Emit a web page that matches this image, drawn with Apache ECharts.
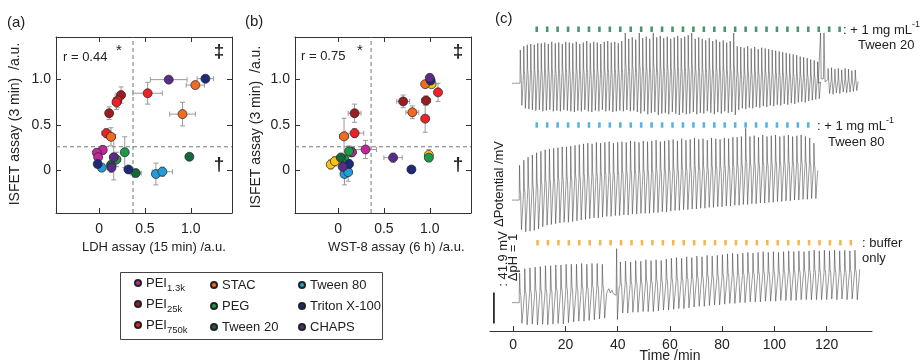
<!DOCTYPE html>
<html><head><meta charset="utf-8">
<script src="https://cdn.jsdelivr.net/npm/echarts@6/dist/echarts.min.js"></script>
<style>html,body{margin:0;padding:0;background:#fff}#c{width:923px;height:362px}</style>
</head><body><div id="c"></div>
<script>
const FONT = '"Liberation Sans", Arial, Helvetica, sans-serif';

// ---------- Panel (a): LDH assay vs ISFET assay  [x, y, xErr, yErr]
const a_PEI13k  = [[0.04,0.225,0.04,0.05],[-0.025,0.195,0.03,0.04],[-0.01,0.145,0.03,0.04]];
const a_PEI25k  = [[0.24,0.83,0.03,0.09],[0.11,0.63,0.03,0.07]];
const a_PEI750k = [[0.53,0.85,0.16,0.12],[0.20,0.77,0.04,0.08],[0.19,0.75,0.04,0.08],[0.08,0.41,0.05,0.05]];
const a_STAC    = [[1.05,0.94,0.10,0.03],[0.91,0.62,0.14,0.13],[0.13,0.37,0.05,0.10]];
const a_PEG     = [[0.28,0.20,0.03,0.17],[0.19,0.12,0.04,0.08]];
const a_Tw20    = [[0.985,0.15,0,0],[0.40,-0.03,0.06,0.02],[0.13,0.06,0.03,0.04]];
const a_Tw80    = [[0.62,-0.04,0.03,0.12],[0.69,-0.015,0.11,0.05],[0.03,0.03,0.02,0.03]];
const a_Triton  = [[1.16,1.01,0.09,0.02],[0.32,0.01,0.03,0.02],[-0.015,0.07,0.02,0.03]];
const a_CHAPS   = [[0.76,1.00,0.20,0.02],[0.16,0.145,0.04,0.25],[0.135,0.03,0.03,0.05]];

// ---------- Panel (b): WST-8 assay vs ISFET assay
const b_PEI13k  = [[0.30,0.23,0.12,0.10],[0.15,0.20,0.03,0.05]];
const b_PEI25k  = [[0.18,0.63,0.07,0.10],[0.71,0.76,0.07,0.07],[0.96,0.77,0.05,0.05]];
const b_PEI750k = [[0.18,0.41,0.10,0.05],[1.09,0.86,0.04,0.10],[0.95,0.57,0.04,0.15]];
const b_STAC    = [[0.065,0.375,0.05,0.20],[0.81,0.64,0.07,0.07],[0.95,0.95,0.03,0.03]];
const b_PEG     = [[0.12,0.21,0.04,0.06],[0.07,0.12,0.03,0.05],[0.99,0.14,0.03,0.04]];
const b_Tw20    = [[0.03,0.14,0.05,0.05]];
const b_Tw80    = [[0.07,-0.04,0.03,0.12],[0.11,-0.02,0.04,0.10]];
const b_Triton  = [[0.12,0.07,0.03,0.05],[0.80,0.01,0.04,0.03],[1.01,0.99,0.03,0.03]];
const b_CHAPS   = [[0.05,0.04,0.03,0.06],[0.60,0.14,0.10,0.05],[1.00,1.02,0.03,0.03]];
const b_Other   = [[-0.08,0.065,0.04,0.05],[-0.035,0.10,0.04,0.05],[1.02,0.95,0.03,0.03],[0.99,0.17,0.03,0.06],[0.15,0.20,0.03,0.04]];

const corrA = 'r = 0.44', corrB = 'r = 0.75';
const ldhThreshold = 0.37, wstThreshold = 0.36, isfetThreshold = 0.26;
const scatterTicks = [0, 0.5, 1.0];

// ---------- Panel (c): potential traces (mV relative to each trace's resting level)
const t1Start = 2.6, t1Period = 1.34;
const t1Tops = [45,50,52,53,52,54, 54,55,53,56,54,55,53,56,55,54,56,53,55,57,54,56,55,53,56,57,55,56,54,57,
  68,60,62,59,68,61,63,60,68,62,64,61,63,60,62,64,61,63,65,68,60,62,
  60,58,61,57,59,56,58,55,57,68, 50,49,48,50,47,49,46,48,47,
  46,45,44,43,42,41,40,39,38,36,35,34,32,31,29];
const t1Bottoms = [-30,
  -34,-35,-36,-37,-36,-38,-37,-36,-38,-37,-38,-36,-37,-38,-39,-37,-38,-36,-38,-39,-37,-38,-36,-38,-37,-39,-38,-37,-38,-36,-38,-37,
  -39,-41,-38,-42,-40,-39,-43,-41,-40,-42,-39,-41,-43,-40,-42,-41,-39,-42,-40,-41,-38,-40,-42,-39,-41,-38,-40,-39,-43,
  -36,-34,-35,-33,-34,-32,-33,-31,-32,-30,-31,-29,-30,-28,-29,-27,-28,-26,-25,-26,-24,-23,-22,-21];
const t1DoubleSpike = [[116.8,0],[117.7,68],[117.95,6],[118.8,6],[119.0,68],[119.4,2]];
const t1TailStart = 120.5, t1TailPeriod = 1.3;
const t1TailTops = [20,21,19,20,18,20,19,17,18];
const t1TailBottoms = [-14,-15,-13,-14,-12,-13,-12,-11,-10];

const t2Start = 2.3, t2Period = 1.634;
const t2Tops = [47,54,58,61,64, 66,68,69,70,71,72,72,73,74,75,
  76,77,76,78,77,78,79,77,78,79,78,80,79,78,80,79,80,81,79,80,
  81,82,80,83,81,82,84,82,83,81,84,83,82,84,83,85,
  85,86,97,86,87,85,88,86,87,88,86,87,88,86,87,88,86,84,77];
const t2Bottoms = [-40,-43,-42,-41,-39, -36,-34,-33,-32,-31,-30,-30,-29,-28,-27,
  -26,-25,-24,-24,-23,-22,-22,-21,-21,-20,-20,-19,-19,-18,-18,-18,-17,-17,-16,-16,
  -15,-14,-14,-13,-13,-12,-12,-11,-11,-10,-10,-9,-9,-8,-8,-7,
  -7,-6,-6,-5,-5,-4,-4,-3,-3,-2,-2,-1,-1,0,0,1,1,2,2];

const t3aStart = 2.3, t3aPeriod = 1.98;
const t3aTops = [40,46,47,48,49,50,50,51,51,52,52,52,53,52,53,53,52];
const t3aBottoms = [-28,-30,-29,-30,-29,-30,-29,-28,-29,-27,-26,-25,-25,-24,-23,-22,-21];
const t3Disturb = [[36.0,15],[36.6,19],[37.2,13],[37.8,17],[38.4,12],[39.0,14],[39.4,10],[39.6,73],[39.9,-23],[40.5,20]];
const t3bStart = 40.9, t3bPeriod = 1.953;
const t3bTops = [55,56,55,57,56,58,57,58,57,59, 60,61,60,62,61,63,62,64,63,64, 65,66,67,66,67,68,67,68,69,68,
  69,68,69,70,69,70,69,70,71,70, 71,70,71,70,71,70,71];
const t3bBottoms = [-14,-14,-13,-13,-12,-12,-12,-11,-10,-10, -9,-8,-8,-7,-6,-5,-5,-4,-3,-3, -2,-1,-1,0,0,1,1,1,2,2,
  2,3,3,3,3,4,4,4,4,4, 4,5,4,5,4,5,4];

const tw20Marks = [9,13,17,21,25,29,33,37,41,45,49,53,57,61,65,69,73,77,81,85,89,93,97,101,105,109,113,117,121,125];
const tw80Marks = [9,13,17,21,25,29,33,37,41,45,49,53,57,61,65,69,73,77,81,85,89,93,97,101,105,109,113];
const bufMarks  = [9.3,13.3,17.3,21.3,25.3,29.3,33.3,37.3,41.3,45.3,49.3,53.3,57.3,61.3,65.3,69.3,73.3,77.3,81.3,85.3,89.3,93.3,97.3,101.3,105.3,109.3,113.3,117.3,121.3,125.3,129.3];
const timeTicks = [0,20,40,60,80,100,120];
const scaleBarMV = 41.9;

// ---------- layout constants (mV on the shared vertical axis of panel c)
const MVPX = 1.352;
const off1 = 335, off2 = 177, off3 = 38.3;
const mark1 = 408, mark2 = 278.5, mark3 = 119.4;

const COLORS = {
  'PEI1.3k':'#c1279a','PEI25k':'#9c1c22','PEI750k':'#ec2227','STAC':'#f26b21','PEG':'#1c9a48',
  'Tween 20':'#13693a','Tween 80':'#239cd8','Triton X-100':'#1d2a78','CHAPS':'#5a2b88','other':'#f7c318'
};

function cycles(start, period, tops, bottoms, base, pts){
  const n = Math.min(tops.length, bottoms.length);
  for(let i=0;i<n;i++){
    const t = start + i*period, T = base + tops[i], B = base + bottoms[i], M = B + 0.55*(T-B);
    pts.push([t, M],[t+0.07*period, T],[t+0.2*period, M+0.06*(T-B)],[t+0.32*period, M],
             [t+0.52*period, B],[t+0.9*period, M-0.1*(T-B)]);
  }
}
function rel(list, base){ return list.map(p => [p[0], base + p[1]]); }

const tr1 = [[-0.5,off1],[t1Start,off1]];
cycles(t1Start, t1Period, t1Tops, t1Bottoms, off1, tr1);
tr1.push(...rel(t1DoubleSpike, off1));
cycles(t1TailStart, t1TailPeriod, t1TailTops, t1TailBottoms, off1, tr1);
tr1.push([t1TailStart + t1TailTops.length*t1TailPeriod, off1+2]);

const tr2 = [[-0.5,off2],[t2Start,off2]];
cycles(t2Start, t2Period, t2Tops, t2Bottoms, off2, tr2);
tr2.push([t2Start + t2Tops.length*t2Period, off2+40]);

const tr3 = [[-0.5,off3],[t3aStart,off3]];
cycles(t3aStart, t3aPeriod, t3aTops, t3aBottoms, off3, tr3);
tr3.push(...rel(t3Disturb, off3));
cycles(t3bStart, t3bPeriod, t3bTops, t3bBottoms, off3, tr3);
tr3.push([t3bStart + t3bTops.length*t3bPeriod, off3+45]);

// ---------- helpers
function errRender(params, api){
  const x = api.value(0), y = api.value(1), ex = api.value(2), ey = api.value(3);
  const st = {stroke:'#9a9a9a', lineWidth:1, fill:null};
  const ch = [], cap = 2.5;
  if (ex > 0){
    const l = api.coord([x-ex,y]), r = api.coord([x+ex,y]);
    ch.push({type:'line',shape:{x1:l[0],y1:l[1],x2:r[0],y2:r[1]},style:st});
    ch.push({type:'line',shape:{x1:l[0],y1:l[1]-cap,x2:l[0],y2:l[1]+cap},style:st});
    ch.push({type:'line',shape:{x1:r[0],y1:r[1]-cap,x2:r[0],y2:r[1]+cap},style:st});
  }
  if (ey > 0){
    const t = api.coord([x,y+ey]), b = api.coord([x,y-ey]);
    ch.push({type:'line',shape:{x1:t[0],y1:t[1],x2:b[0],y2:b[1]},style:st});
    ch.push({type:'line',shape:{x1:t[0]-cap,y1:t[1],x2:t[0]+cap,y2:t[1]},style:st});
    ch.push({type:'line',shape:{x1:b[0]-cap,y1:b[1],x2:b[0]+cap,y2:b[1]},style:st});
  }
  return {type:'group', children:ch};
}
const fmtTick = v => v === 0 ? '0' : v.toFixed(1);
const frameLine = {show:true, onZero:false, lineStyle:{color:'#333', width:1}};
function sAxisX(grid, pos, label){
  return {type:'value', gridIndex:grid, position:pos, min:-0.47, max:1.45,
    axisLine:frameLine, splitLine:{show:false},
    axisTick:{show:true, inside:true, length:5, customValues:scatterTicks, lineStyle:{color:'#333'}},
    axisLabel:{show:label, customValues:scatterTicks, formatter:fmtTick, margin:9, fontSize:14, color:'#222', fontFamily:FONT}};
}
function sAxisY(grid, pos, label){
  return {type:'value', gridIndex:grid, position:pos, min:-0.47, max:1.47,
    axisLine:frameLine, splitLine:{show:false},
    axisTick:{show:true, inside:true, length:5, customValues:scatterTicks, lineStyle:{color:'#333'}},
    axisLabel:{show:label, customValues:scatterTicks, formatter:fmtTick, margin:5, fontSize:14, color:'#222', fontFamily:FONT}};
}
function scat(name, data, xi, color){
  return {type:'scatter', name:name, xAxisIndex:xi, yAxisIndex:xi, data:data, symbolSize:9, z:5,
    itemStyle:{color:color, borderColor:'#222', borderWidth:0.7, opacity:1}};
}
function dashed(xi, pts){
  return {type:'line', xAxisIndex:xi, yAxisIndex:xi, data:pts, symbol:'none', silent:true, z:1,
    lineStyle:{color:'#777', width:1, type:[4,3]}};
}
const setsA = [['PEI1.3k',a_PEI13k],['PEI25k',a_PEI25k],['PEI750k',a_PEI750k],['STAC',a_STAC],['PEG',a_PEG],
  ['Tween 20',a_Tw20],['Tween 80',a_Tw80],['Triton X-100',a_Triton],['CHAPS',a_CHAPS]];
const setsB = [['PEI1.3k',b_PEI13k],['PEI25k',b_PEI25k],['PEI750k',b_PEI750k],['STAC',b_STAC],['PEG',b_PEG],
  ['Tween 20',b_Tw20],['Tween 80',b_Tw80],['Triton X-100',b_Triton],['CHAPS',b_CHAPS]];

const series = [];
series.push(dashed(0, [[ldhThreshold,-0.47],[ldhThreshold,1.47]]));
series.push(dashed(0, [[-0.47,isfetThreshold],[1.45,isfetThreshold]]));
series.push(dashed(2, [[wstThreshold,-0.47],[wstThreshold,1.47]]));
series.push(dashed(2, [[-0.47,isfetThreshold],[1.45,isfetThreshold]]));
series.push({type:'custom', xAxisIndex:0, yAxisIndex:0, renderItem:errRender, encode:{x:0,y:1}, z:2, silent:true,
  data:[].concat(...setsA.map(s=>s[1]))});
series.push({type:'custom', xAxisIndex:2, yAxisIndex:2, renderItem:errRender, encode:{x:0,y:1}, z:2, silent:true,
  data:[].concat(...setsB.map(s=>s[1]), b_Other)});
setsA.forEach(s => series.push(scat(s[0], s[1], 0, COLORS[s[0]])));
series.push(scat('other', b_Other, 2, COLORS.other));
setsB.forEach(s => series.push(scat(s[0], s[1], 2, COLORS[s[0]])));

const traceStyle = {color:'#333', width:0.5};
[tr1,tr2,tr3].forEach(d => series.push({type:'line', xAxisIndex:4, yAxisIndex:4, data:d, symbol:'none',
  showSymbol:false, silent:true, lineStyle:traceStyle, z:2}));
function marks(ts, y, color){
  return {type:'scatter', xAxisIndex:4, yAxisIndex:4, data:ts.map(t=>[t,y]), symbol:'rect', symbolSize:[2.6,5.5],
    itemStyle:{color:color}, silent:true, z:3};
}
series.push(marks(tw20Marks, mark1, '#1d7a46'));
series.push(marks(tw80Marks, mark2, '#2aa3de'));
series.push(marks(bufMarks, mark3, '#f5a524'));
series.push({type:'line', xAxisIndex:4, yAxisIndex:4, data:[[-7.4,10],[-7.4,10+scaleBarMV]], symbol:'none',
  silent:true, lineStyle:{color:'#111', width:1.6}});

// ---------- legend
const legText = {fontFamily:FONT, fontSize:13, color:'#222'};
const subNames = {'PEI1.3k':'{n|PEI}{s|1.3k}','PEI25k':'{n|PEI}{s|25k}','PEI750k':'{n|PEI}{s|750k}'};
function legend(names, left, top, gap, rich){
  const L = {orient:'vertical', left:left, top:top, itemGap:gap, itemWidth:6, itemHeight:6, icon:'circle',
    padding:0, selectedMode:false, data:names, textStyle:Object.assign({lineHeight:15}, legText)};
  if (rich){
    L.formatter = n => subNames[n];
    L.textStyle = Object.assign({}, legText, {rich:{
      n:{fontFamily:FONT, fontSize:13, lineHeight:13, verticalAlign:'top', color:'#222'},
      s:{fontFamily:FONT, fontSize:9.5, lineHeight:10, padding:[7,0,0,0], verticalAlign:'top', color:'#222'}}});
  }
  return L;
}

function txt(x, y, text, size, extra){
  return Object.assign({type:'text', x:x, y:y, silent:true,
    style:Object.assign({text:text, fontFamily:FONT, fontSize:size, fill:'#222', align:'left', verticalAlign:'middle'}, extra||{})});
}
function vtxt(x, y, text, size){
  return {type:'text', x:x, y:y, rotation:Math.PI/2, silent:true,
    style:{text:text, fontFamily:FONT, fontSize:size, fill:'#222', align:'center', verticalAlign:'middle'}};
}
const supRich = {n:{fontFamily:FONT, fontSize:13, lineHeight:15, verticalAlign:'bottom', color:'#222'},
  p:{fontFamily:FONT, fontSize:9, lineHeight:9, padding:[0,0,7,0], verticalAlign:'bottom', color:'#222'}};
function doseText(x, y){
  return {type:'text', x:x, y:y, silent:true,
    style:{text:'{n|: + 1 mg mL}{p|-1}', rich:supRich, fontFamily:FONT, fontSize:13, fill:'#222', align:'left', verticalAlign:'middle'}};
}
const bold = {align:'center', fontWeight:'bold'};
const graphic = [
  txt(7, 23, '(a)', 15), txt(245, 22, '(b)', 15), txt(495, 19, '(c)', 15),
  txt(63, 57.5, corrA, 13), txt(116, 51, '*', 15), txt(219, 52, '‡', 19, bold), txt(219, 165, '†', 19, bold),
  txt(301, 56, corrB, 13), txt(357, 51, '*', 15), txt(458, 52, '‡', 19, bold), txt(458, 165, '†', 19, bold),
  vtxt(15, 124, 'ISFET assay (3 min)  /a.u.', 14), vtxt(256, 127, 'ISFET assay (3 min)  /a.u.', 14),
  txt(82, 247, 'LDH assay (15 min) /a.u.', 13), txt(328, 247, 'WST-8 assay (6 h) /a.u.', 13),
  vtxt(499, 184, 'ΔPotential /mV', 13), vtxt(503, 259, ': 41.9 mV', 13), vtxt(513.5, 257.5, 'ΔpH = 1', 13),
  doseText(843, 29), txt(858, 45, 'Tween 20', 13),
  doseText(817, 125), txt(828, 142, 'Tween 80', 13),
  txt(862, 243, ': buffer', 13), txt(862, 258, 'only', 13),
  txt(670, 356.5, 'Time /min', 14, {align:'center'}),
  {type:'rect', shape:{x:120.5, y:272.5, width:262, height:67}, silent:true, style:{fill:null, stroke:'#444', lineWidth:1}}
];

const option = {
  animation:false, backgroundColor:'#fff',
  textStyle:{fontFamily:FONT},
  grid:[{left:56, top:37, width:176, height:176},{left:295, top:37, width:176, height:176},{left:490, top:10, width:382, height:321}],
  xAxis:[sAxisX(0,'bottom',true), sAxisX(0,'top',false), sAxisX(1,'bottom',true), sAxisX(1,'top',false),
    {type:'value', gridIndex:2, min:-8.9, max:137.4, position:'bottom',
     axisLine:{show:true, onZero:false, lineStyle:{color:'#333', width:1}}, splitLine:{show:false},
     axisTick:{show:true, inside:true, length:5, customValues:timeTicks, lineStyle:{color:'#333'}},
     axisLabel:{customValues:timeTicks, margin:7, fontSize:14, color:'#222', fontFamily:FONT}}],
  yAxis:[sAxisY(0,'left',true), sAxisY(0,'right',false), sAxisY(1,'left',true), sAxisY(1,'right',false),
    {type:'value', gridIndex:2, min:0, max:321*MVPX, show:false}],
  legend:[legend(['PEI1.3k','PEI25k','PEI750k'],134,276.5,4,true),
          legend(['STAC','PEG','Tween 20'],210,277.5,6,false),
          legend(['Tween 80','Triton X-100','CHAPS'],298,277.5,6,false)],
  graphic:graphic,
  series:series
};
const chart = echarts.init(document.getElementById('c'), null, {renderer:'canvas'});
chart.setOption(option);
</script></body></html>
